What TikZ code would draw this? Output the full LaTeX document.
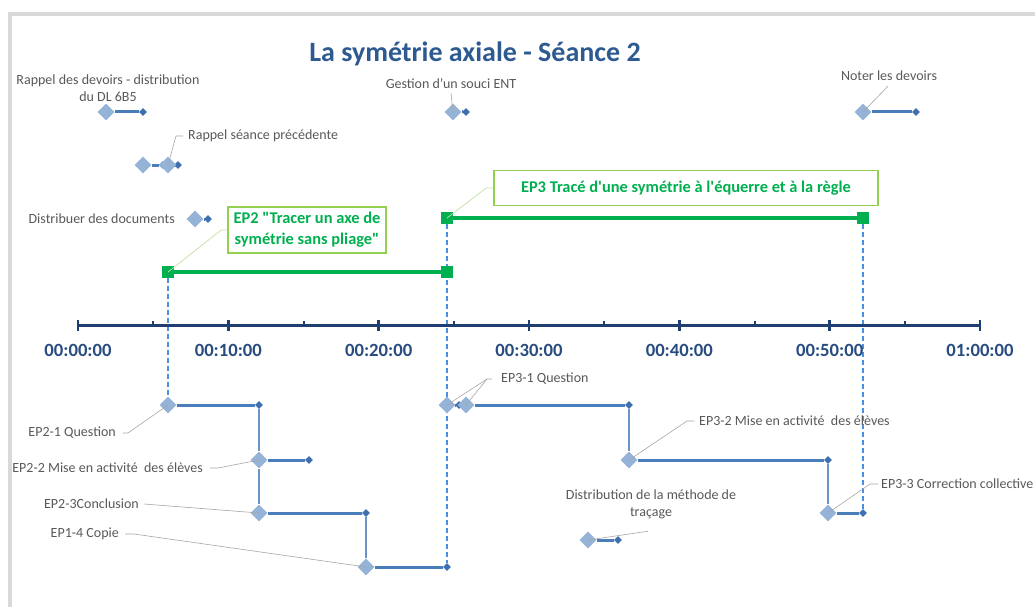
\documentclass[tikz,border=0pt]{standalone}
\usepackage{fontspec}
\setmainfont{Carlito}
\newfontfamily\calib{Carlito}
\usetikzlibrary{shapes.geometric}
\pgfdeclarelayer{bg}
\pgfsetlayers{bg,main}
\definecolor{framegray}{HTML}{D9D9D9}
\definecolor{titleblue}{HTML}{2E5A92}
\definecolor{axiscol}{HTML}{1F3F73}
\definecolor{axlblcol}{HTML}{284C80}
\definecolor{lgray}{HTML}{595959}
\definecolor{leadgray}{HTML}{A6A6A6}
\definecolor{dialight}{HTML}{95B3D7}
\definecolor{enddark}{HTML}{3E6FB0}
\definecolor{taskblue}{HTML}{4A7EBB}
\definecolor{vblue}{HTML}{6A93C8}
\definecolor{dashblue}{HTML}{4A90E2}
\definecolor{ggreen}{HTML}{00B050}
\definecolor{gborder}{HTML}{92D050}
\definecolor{gleadcol}{HTML}{C4E3A5}
\begin{document}
\begin{tikzpicture}[x=1pt,y=-1pt,
  bigdia/.style={diamond, fill=dialight, minimum size=17pt, inner sep=0pt, shape aspect=1},
  enddia/.style={diamond, fill=enddark, minimum size=8pt, inner sep=0pt},
  taskline/.style={draw=taskblue, line width=3pt},
  vconn/.style={draw=vblue, line width=1.8pt},
  dashln/.style={draw=dashblue, line width=1.3pt, dash pattern=on 5pt off 3pt},
  gsq/.style={rectangle, fill=ggreen, minimum size=12pt, inner sep=0pt},
  gbar/.style={draw=ggreen, line width=4pt},
  gbox/.style={draw=gborder, line width=1.5pt, fill=white, text=ggreen, font=\calib\bfseries\fontsize{16.4}{21}\selectfont, align=center, inner sep=2pt},
  lbl/.style={text=lgray, font=\calib\fontsize{14}{17}\selectfont, inner sep=0pt},
  leader/.style={draw=leadgray, line width=0.6pt},
  gleader/.style={draw=gleadcol, line width=0.7pt},
  axline/.style={draw=axiscol, line width=3pt},
  axlbl/.style={text=axlblcol, font=\calib\bfseries\fontsize{18.67}{22}\selectfont}
]
\useasboundingbox (0,0) rectangle (1035,607);
\clip (0,0) rectangle (1035,607);
\begin{pgfonlayer}{bg}
\fill[white] (0,0) rectangle (1035,607);
\end{pgfonlayer}
% frame
\draw[draw=framegray, line width=4pt] (10,610) -- (10,14) -- (1040,14);
% title
\node[font=\calib\bfseries\fontsize{28}{32}\selectfont, text=titleblue] (title) at (475,54) {La symétrie axiale - Séance 2};
% axis
\coordinate (ax0) at (78,325);
\coordinate (ax1) at (980,325);
\draw[axline] (ax0) -- (ax1);
\foreach \i in {0,...,6} \draw[draw=axiscol, line width=2.5pt] (78+150.333*\i,319.5) -- ++(0,11);
\foreach \i in {0,...,5} \draw[draw=axiscol, line width=2pt] (78+75.167+150.333*\i,325) -- ++(0,-4.5);
\foreach \i/\t in {0/00:00:00,1/00:10:00,2/00:20:00,3/00:30:00,4/00:40:00,5/00:50:00,6/01:00:00}
  \node[axlbl] (axl\i) at (78+150.333*\i,350) {\t};
% tasks above the axis
\node[bigdia] (A) at (106,112) {};   \node[enddia] (Ae) at (143,112) {};
\node[enddia] (B1e) at (163,165) {};
\node[bigdia] (B1) at (143,165) {};
\node[enddia] (B2e) at (178,165) {};
\node[bigdia] (B2) at (168,165) {};
\node[bigdia] (C) at (195,219) {};   \node[enddia] (Ce) at (208,219) {};
\node[bigdia] (D) at (453,112) {};   \node[enddia] (De) at (466,112) {};
\node[bigdia] (E) at (863,112) {};   \node[enddia] (Ee) at (916,112) {};
% tasks below the axis
\node[bigdia] (F) at (168,405) {};   \node[enddia] (Fe) at (259,405) {};
\node[bigdia] (G) at (259,460) {};   \node[enddia] (Ge) at (309,460) {};
\node[bigdia] (H) at (259,513) {};   \node[enddia] (He) at (366,513) {};
\node[bigdia] (I) at (366,567) {};   \node[enddia] (Ie) at (447,567) {};
\node[enddia] (J1e) at (459,405) {};
\node[bigdia] (J1) at (447,405) {};
\node[bigdia] (J2) at (466,405) {};  \node[enddia] (J2e) at (629,405) {};
\node[bigdia] (K) at (629,460) {};   \node[enddia] (Ke) at (828,460) {};
\node[bigdia] (L) at (828,513) {};   \node[enddia] (Le) at (863,513) {};
\node[bigdia] (M) at (588,540) {};   \node[enddia] (Me) at (618,540) {};
% green phases
\node[gsq] (s1) at (168,272) {};
\node[gsq] (s2) at (447,272) {};
\node[gsq] (s3) at (447,218) {};
\node[gsq] (s4) at (863,218) {};
\node[gbox, minimum width=158pt, minimum height=46pt] (b2) at (307,230) {EP2 "Tracer un axe de\\symétrie sans pliage"};
\node[gbox, minimum width=384pt, minimum height=35pt] (b3) at (686,188) {EP3 Tracé d'une symétrie à l'équerre et à la règle};
\begin{pgfonlayer}{bg}
  \draw[dashln] (s1) -- (F);
  \draw[dashln] (s3) -- (Ie);
  \draw[dashln] (s4) -- (Le);
  \draw[gbar] (s1) -- (s2);
  \draw[gbar] (s3) -- (s4);
  \draw[taskline] (A) -- (Ae);
  \draw[taskline] (B1) -- (B1e);
  \draw[taskline] (B2) -- (B2e);
  \draw[taskline] (C) -- (Ce);
  \draw[taskline] (D) -- (De);
  \draw[taskline] (E) -- (Ee);
  \draw[taskline] (F) -- (Fe);
  \draw[taskline] (G) -- (Ge);
  \draw[taskline] (H) -- (He);
  \draw[taskline] (I) -- (Ie);
  \draw[taskline] (J1) -- (J1e);
  \draw[taskline] (J2) -- (J2e);
  \draw[taskline] (K) -- (Ke);
  \draw[taskline] (L) -- (Le);
  \draw[taskline] (M) -- (Me);
  \draw[vconn] (Fe) -- (G);
  \draw[vconn] (G) -- (H);
  \draw[vconn] (He) -- (I);
  \draw[vconn] (J2e) -- (K);
  \draw[vconn] (Ke) -- (L);
\end{pgfonlayer}
% labels
\node[lbl, align=center] (lA) at (108,88) {Rappel des devoirs - distribution\\du DL 6B5};
\node[lbl, anchor=west] (lB) at (188,136) {Rappel séance précédente};
\node[lbl, anchor=east] (lC) at (175,219) {Distribuer des documents};
\node[lbl] (lD) at (451,84) {Gestion d’un souci ENT};
\node[lbl] (lE) at (889,76) {Noter les devoirs};
\node[lbl, anchor=east] (lF) at (116,433) {EP2-1 Question};
\node[lbl, anchor=east] (lG) at (203,468) {EP2-2 Mise en activité\ \ des élèves};
\node[lbl, anchor=east] (lH) at (139,504) {EP2-3Conclusion};
\node[lbl, anchor=east] (lI) at (119,534) {EP1-4 Copie};
\node[lbl, anchor=west] (lJ) at (501,379) {EP3-1 Question};
\node[lbl, anchor=west] (lK) at (699,421) {EP3-2 Mise en activité\ \ des élèves};
\node[lbl, anchor=west] (lL) at (881,484) {EP3-3 Correction collective};
\node[lbl, align=center] (lM) at (651,504.5) {Distribution de la méthode de\\traçage};
% leaders
\draw[leader] ([xshift=-5pt]lB.west) -- ++(-7,0) -- (B2.center);
\draw[leader] ([yshift=-4pt]lD.south) -- (D.center);
\draw[leader] ([xshift=-1pt,yshift=-5pt]lE.south) -- (E.center);
\draw[leader] ([xshift=7pt]lF.east) -- ++(5,0) -- (F.center);
\draw[leader] ([xshift=7pt]lG.east) -- ++(8,0) -- (G.center);
\draw[leader] ([xshift=5pt]lH.east) -- (H.center);
\draw[leader] ([xshift=6pt]lI.east) -- ++(9,0) -- (I.center);
\draw[leader] ([xshift=-9pt]lJ.west) -- ++(-5,0) coordinate (jk) -- (J1.center);
\draw[leader] (jk) -- (J2.center);
\draw[leader] ([xshift=-5pt]lK.west) -- ++(-7,0) -- (K.center);
\draw[leader] ([xshift=-3pt]lL.west) -- ++(-8,0) -- (L.center);
\draw[leader] ([xshift=-3pt,yshift=-12pt]lM.south) -- (M.center);
\draw[gleader] (b2.west) -- ++(-6,0) -- (s1.center);
\draw[gleader] (b3.west) -- ++(-7,0) -- (s3.center);
\end{tikzpicture}
\end{document}
